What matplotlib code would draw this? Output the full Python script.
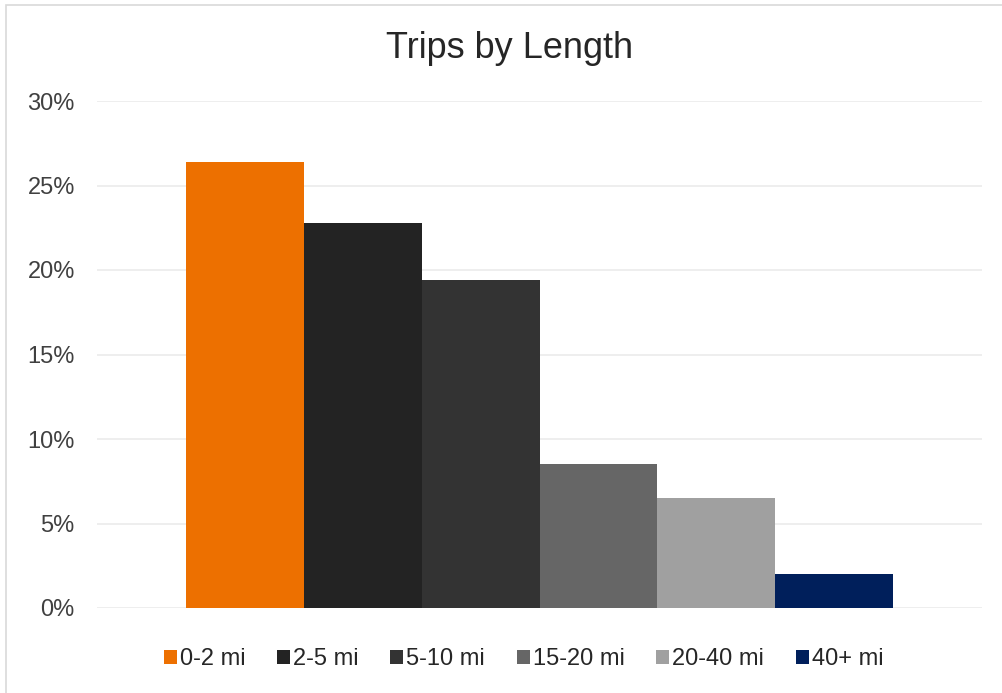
import matplotlib.pyplot as plt
from matplotlib.patches import Rectangle
from matplotlib.ticker import PercentFormatter

plt.rcParams['font.family'] = ['Liberation Sans', 'DejaVu Sans']

# 거리 구간별 통행 비율
labels = ['0-2 mi', '2-5 mi', '5-10 mi', '15-20 mi', '20-40 mi', '40+ mi']
shares = [0.264, 0.228, 0.194, 0.085, 0.065, 0.020]
colors = ['#ED7000', '#232323', '#333333', '#666666', '#A0A0A0', '#001F5B']


def main():
    fig = plt.figure(figsize=(10.02, 6.93), dpi=100)
    ax = fig.add_axes([97 / 1002, 1 - 608 / 693, 885 / 1002, 507 / 693])

    # 차트 테두리 (오른쪽/아래는 잘려 있음)
    fig.patches.append(Rectangle((5.5 / 1002, -0.1), 1.2, 1.1 - 5.5 / 693,
                                 transform=fig.transFigure, fill=False,
                                 edgecolor='#D9D9D9', linewidth=1.2))

    for i, (lab, val, col) in enumerate(zip(labels, shares, colors)):
        ax.bar(i, val, width=1.0, color=col, label=lab, zorder=3)

    ax.set_xlim(-1.255, 6.255)
    ax.set_ylim(0, 0.30)
    ax.set_yticks([0, 0.05, 0.10, 0.15, 0.20, 0.25, 0.30])
    ax.yaxis.set_major_formatter(PercentFormatter(1.0, decimals=0))
    ax.set_xticks([])
    ax.grid(axis='y', color='#EBEBEB', linewidth=1.2, zorder=0)
    for s in ax.spines.values():
        s.set_visible(False)
    ax.tick_params(axis='y', length=0, pad=16, labelsize=17, labelcolor='#404040')

    fig.text(510 / 1002, 1 - 48 / 693, 'Trips by Length', ha='center', va='center',
             fontsize=26, color='#262626')

    ax.legend(loc='center', bbox_to_anchor=(0.482, -0.101), ncol=6, frameon=False,
              fontsize=17, handlelength=0.55, handleheight=0.55, handletextpad=0.12,
              columnspacing=1.35, labelcolor='#262626')

    plt.savefig('out.png', dpi=100)


if __name__ == '__main__':
    main()
